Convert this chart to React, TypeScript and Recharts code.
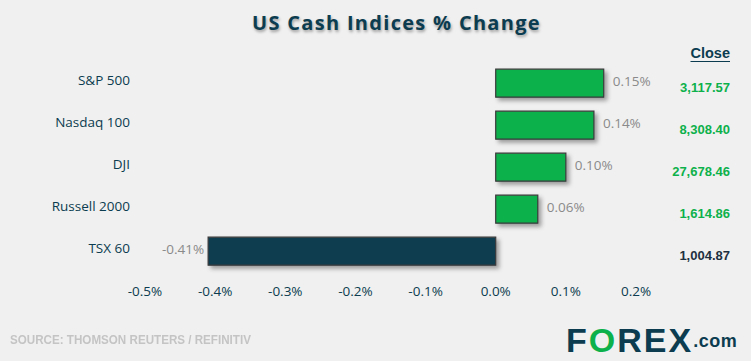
import React from "react";
import { BarChart, Bar, XAxis, YAxis, Cell, LabelList } from "recharts";

const categories = ["S&P 500", "Nasdaq 100", "DJI", "Russell 2000", "TSX 60"];
const changes = [0.154, 0.14, 0.1, 0.06, -0.41];
const closes = ["3,117.57", "8,308.40", "27,678.46", "1,614.86", "1,004.87"];
const xTicks = [-0.5, -0.4, -0.3, -0.2, -0.1, 0, 0.1, 0.2];

const GREEN = "#0db14b";
const NAVY = "#0b3c4f";

const data = categories.map((name, i) => ({ name, value: changes[i], close: closes[i] }));

const LeftTick = (props: any) => {
  const { x, y, payload } = props;
  return (
    <text x={x - 7} y={y} dy={2} textAnchor="end" fill={NAVY} fontSize={13.5} fontFamily="'Open Sans', sans-serif">
      {payload.value}
    </text>
  );
};

const RightTick = (props: any) => {
  const { x, y, payload, index } = props;
  const v = changes[index];
  return (
    <text x={x + 86} y={y} dy={9} textAnchor="end" fill={v >= 0 ? GREEN : "#1e3040"} fontSize={13} fontWeight="bold" fontFamily="'Liberation Sans Narrow', 'Liberation Sans', Arial, sans-serif">
      {payload.value}
    </text>
  );
};

const BarLabel = (props: any) => {
  const { x, y, width, height, value } = props;
  const neg = value < 0;
  const left = Math.min(x, x + width);
  const right = Math.max(x, x + width);
  return (
    <text
      x={neg ? left - 4 : right + 9}
      y={y + height / 2}
      dy={3}
      textAnchor={neg ? "end" : "start"}
      fill="#8a8a8a"
      fontSize={13.5}
      fontFamily="'Open Sans', sans-serif"
    >
      {Number(value).toFixed(2) + "%"}
    </text>
  );
};

export default function App() {
  return (
    <div style={{ position: "absolute", left: 0, top: 0, width: 751, height: 361, background: "#f0f0f0", overflow: "hidden" }}>
      <div
        style={{
          position: "absolute",
          left: 0,
          top: 9,
          width: 751,
          textAlign: "center",
          fontFamily: "'Open Sans', sans-serif",
          fontWeight: 700,
          fontSize: 20,
          letterSpacing: 1.3,
          color: NAVY,
          textShadow: "1px 2px 3px rgba(0,0,0,0.35)",
          paddingLeft: 42,
          boxSizing: "border-box",
        }}
      >
        US Cash Indices % Change
      </div>
      <div
        style={{
          position: "absolute",
          right: 21,
          top: 45,
          fontFamily: "'Liberation Sans', Arial, sans-serif",
          fontWeight: 700,
          fontSize: 14.5,
          color: NAVY,
          textDecoration: "underline",
          textUnderlineOffset: 3,
        }}
      >
        Close
      </div>
      <div style={{ position: "absolute", left: 0, top: 0 }}>
        <BarChart
          width={751}
          height={361}
          data={data}
          layout="vertical"
          margin={{ top: 62, right: 0, bottom: 59, left: 0 }}
          barCategoryGap="17%"
        >
          <defs>
            <filter id="shadow" x="-10%" y="-30%" width="130%" height="180%">
              <feDropShadow dx="3" dy="3" stdDeviation="2" floodColor="#000" floodOpacity="0.35" />
            </filter>
          </defs>
          <XAxis
            type="number"
            domain={[-0.5, 0.2]}
            ticks={xTicks}
            axisLine={false}
            tickLine={false}
            height={30}
            tickMargin={8}
            tick={{ fill: NAVY, fontSize: 13.5, fontFamily: "'Open Sans', sans-serif" }}
            tickFormatter={(v: number) => v.toFixed(1) + "%"}
            interval={0}
          />
          <YAxis yAxisId="left" type="category" dataKey="name" width={145} axisLine={false} tickLine={false} tick={<LeftTick />} interval={0} />
          <YAxis yAxisId="right" orientation="right" type="category" dataKey="close" width={115} axisLine={false} tickLine={false} tick={<RightTick />} interval={0} />
          <Bar yAxisId="left" dataKey="value" isAnimationActive={false} stroke="#3a3a3a" strokeWidth={1.2} filter="url(#shadow)">
            {data.map((d, i) => (
              <Cell key={i} fill={d.value >= 0 ? GREEN : NAVY} />
            ))}
            <LabelList dataKey="value" content={<BarLabel />} />
          </Bar>
        </BarChart>
      </div>
      <div
        style={{
          position: "absolute",
          left: 10,
          top: 333,
          fontFamily: "'Liberation Sans Narrow', 'Liberation Sans', sans-serif",
          fontWeight: 700,
          fontSize: 12.5,
          color: "#c4c4c4",
          whiteSpace: "nowrap",
          transform: "scaleX(0.93)",
          transformOrigin: "left center",
        }}
      >
        SOURCE: THOMSON REUTERS / REFINITIV
      </div>
      <div
        style={{
          position: "absolute",
          left: 566,
          top: 321,
          fontFamily: "'Liberation Sans', Arial, sans-serif",
          fontWeight: 900,
          fontSize: 34,
          letterSpacing: 2,
          color: NAVY,
          whiteSpace: "nowrap",
        }}
      >
        F<span style={{ color: GREEN }}>O</span>REX
        <span style={{ fontSize: 18, letterSpacing: 0.5, position: "relative", top: -5 }}>.com</span>
      </div>
    </div>
  );
}
